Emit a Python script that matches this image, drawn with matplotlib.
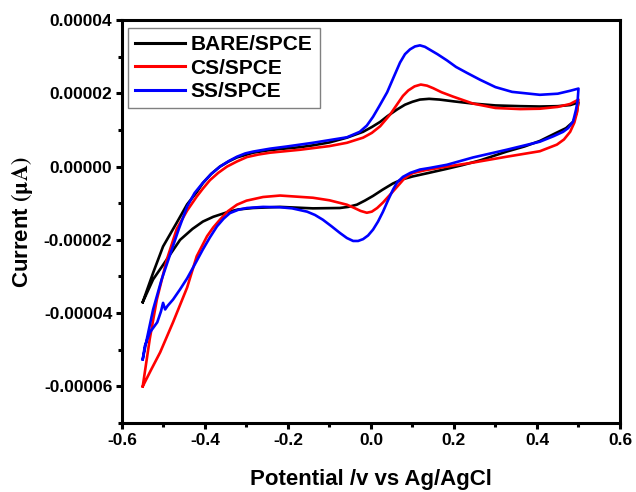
import matplotlib
matplotlib.use('Agg')
import matplotlib.pyplot as plt
from matplotlib.ticker import MultipleLocator, FixedLocator


# ----------------- Data (current in units of 1e-5 A) -----------------
# forward scan -0.55 -> 0.5, then reverse scan 0.5 -> -0.55
bare_x = [-0.550, -0.525, -0.501, -0.468, -0.443, -0.420, -0.405, -0.385, -0.364,
          -0.343, -0.323, -0.284, -0.250, -0.219, -0.171, -0.140, -0.100, -0.058,
          -0.019, 0.002, 0.022, 0.040, 0.063, 0.082, 0.100, 0.118, 0.140, 0.165,
          0.200, 0.246, 0.300, 0.360, 0.407, 0.450, 0.480, 0.500,
          0.495, 0.487, 0.470, 0.448, 0.407, 0.370, 0.327, 0.263, 0.220, 0.183,
          0.140, 0.100, 0.075, 0.053, 0.028, 0.005, -0.015, -0.034, -0.055,
          -0.075, -0.140, -0.219, -0.284, -0.320, -0.345, -0.380, -0.405, -0.430,
          -0.460, -0.484, -0.505, -0.525, -0.550]
bare_y = [-3.70, -2.90, -2.18, -1.53, -1.03, -0.70, -0.45, -0.20, 0.00,
          0.14, 0.25, 0.38, 0.44, 0.48, 0.53, 0.58, 0.66, 0.79,
          0.95, 1.08, 1.22, 1.38, 1.56, 1.69, 1.77, 1.83, 1.85, 1.83,
          1.78, 1.72, 1.67, 1.65, 1.64, 1.65, 1.68, 1.75,
          1.45, 1.22, 1.05, 0.93, 0.70, 0.55, 0.41, 0.17, 0.04, -0.06,
          -0.17, -0.27, -0.35, -0.46, -0.63, -0.80, -0.93, -1.04, -1.10,
          -1.13, -1.14, -1.10, -1.13, -1.17, -1.24, -1.37, -1.50, -1.70,
          -2.00, -2.40, -2.75, -3.08, -3.70]

cs_x = [-0.550, -0.533, -0.516, -0.492, -0.468, -0.443, -0.420, -0.405, -0.388,
        -0.368, -0.347, -0.323, -0.299, -0.271, -0.243, -0.171, -0.100, -0.058,
        -0.019, 0.002, 0.022, 0.046, 0.063, 0.077, 0.090, 0.105, 0.120, 0.135,
        0.150, 0.170, 0.198, 0.246, 0.300, 0.360, 0.407, 0.450, 0.480, 0.500,
        0.497, 0.490, 0.480, 0.465, 0.448, 0.407, 0.327, 0.246, 0.183, 0.130,
        0.100, 0.080, 0.063, 0.045, 0.029, 0.015, 0.002, -0.010, -0.025, -0.040,
        -0.058, -0.100, -0.140, -0.219, -0.260, -0.300, -0.323, -0.345, -0.364,
        -0.380, -0.395, -0.420, -0.443, -0.477, -0.508, -0.530, -0.550]
cs_y = [-6.00, -4.70, -3.63, -2.54, -1.70, -1.20, -0.82, -0.60, -0.37,
        -0.17, 0.00, 0.14, 0.26, 0.33, 0.38, 0.46, 0.56, 0.65,
        0.79, 0.92, 1.10, 1.42, 1.70, 1.93, 2.08, 2.19, 2.24, 2.21,
        2.14, 2.03, 1.91, 1.72, 1.60, 1.57, 1.58, 1.63, 1.71, 1.83,
        1.50, 1.20, 0.95, 0.74, 0.60, 0.42, 0.27, 0.11, 0.00, -0.10,
        -0.18, -0.33, -0.55, -0.78, -0.98, -1.13, -1.23, -1.26, -1.21, -1.13,
        -1.04, -0.92, -0.85, -0.79, -0.83, -0.93, -1.04, -1.22, -1.45,
        -1.66, -1.90, -2.45, -3.30, -4.25, -5.07, -5.55, -6.00]

ss_x = [-0.550, -0.540, -0.525, -0.505, -0.484, -0.463, -0.443, -0.425, -0.405,
        -0.385, -0.364, -0.343, -0.323, -0.303, -0.284, -0.243, -0.202, -0.140,
        -0.058, -0.027, -0.010, 0.005, 0.020, 0.039, 0.055, 0.070, 0.082, 0.094,
        0.106, 0.118, 0.130, 0.142, 0.160, 0.183, 0.205, 0.231, 0.263, 0.300,
        0.340, 0.407, 0.450, 0.480, 0.500,
        0.498, 0.494, 0.487, 0.475, 0.463, 0.440, 0.407, 0.327, 0.246, 0.183,
        0.140, 0.118, 0.095, 0.077, 0.063, 0.053, 0.041, 0.029, 0.017, 0.005,
        -0.007, -0.019, -0.031, -0.043, -0.058, -0.075, -0.095, -0.116, -0.135,
        -0.154, -0.190, -0.219, -0.260, -0.299, -0.320, -0.340, -0.355, -0.371,
        -0.388, -0.405, -0.425, -0.443, -0.460, -0.477, -0.490, -0.496, -0.501,
        -0.506, -0.515, -0.533, -0.545, -0.550]
ss_y = [-5.26, -4.70, -3.90, -3.10, -2.40, -1.70, -1.09, -0.72, -0.44,
        -0.20, 0.00, 0.15, 0.27, 0.36, 0.41, 0.49, 0.55, 0.65,
        0.80, 0.95, 1.12, 1.36, 1.65, 2.03, 2.45, 2.84, 3.07, 3.20,
        3.28, 3.31, 3.27, 3.19, 3.07, 2.90, 2.72, 2.56, 2.37, 2.17,
        2.04, 1.96, 1.99, 2.07, 2.13,
        1.80, 1.55, 1.23, 1.05, 0.95, 0.83, 0.68, 0.46, 0.25, 0.05,
        -0.04, -0.08, -0.17, -0.28, -0.43, -0.63, -0.92, -1.23, -1.50, -1.72,
        -1.88, -1.98, -2.03, -2.03, -1.95, -1.81, -1.63, -1.45, -1.32,
        -1.23, -1.14, -1.11, -1.10, -1.13, -1.18, -1.27, -1.42, -1.63,
        -1.93, -2.26, -2.68, -3.05, -3.35, -3.63, -3.80, -3.90, -3.72,
        -3.95, -4.25, -4.53, -4.90, -5.26]

labels = ['BARE/SPCE', 'CS/SPCE', 'SS/SPCE']
colors = ['black', '#ff0000', '#0000ff']

x_ticks = [-0.6, -0.4, -0.2, 0.0, 0.2, 0.4, 0.6]
y_ticks = [-0.00006, -0.00004, -0.00002, 0.0, 0.00002, 0.00004]


# ----------------- Plot -----------------
def main():
    plt.rcParams['font.family'] = ['Liberation Sans', 'DejaVu Sans']
    plt.rcParams['font.weight'] = 'bold'
    plt.rcParams['mathtext.fontset'] = 'stix'

    fig = plt.figure(figsize=(6.36, 4.92), dpi=100)
    ax = fig.add_axes([0.1918, 0.1402, 0.783, 0.819])

    series = [(bare_x, bare_y), (cs_x, cs_y), (ss_x, ss_y)]
    for (xs, ys), lab, col in zip(series, labels, colors):
        ax.plot(xs, [v * 1e-5 for v in ys], color=col, lw=1.9, label=lab,
                solid_joinstyle='round')

    ax.set_xlim(-0.6, 0.6)
    ax.set_ylim(-0.00007, 0.00004)
    ax.xaxis.set_major_locator(FixedLocator(x_ticks))
    ax.yaxis.set_major_locator(FixedLocator(y_ticks))
    ax.xaxis.set_minor_locator(MultipleLocator(0.1))
    ax.yaxis.set_minor_locator(MultipleLocator(0.00001))
    ax.set_xticklabels([f'{t:.1f}' for t in x_ticks])
    ax.set_yticklabels([f'{t:.5f}' for t in y_ticks])

    for sp in ax.spines.values():
        sp.set_linewidth(2.2)
    ax.tick_params(which='major', direction='out', length=4, width=2.2,
                   labelsize=12.5, pad=3)
    ax.tick_params(which='minor', direction='out', length=3, width=2.2)

    ax.set_xlabel('Potential /v vs Ag/AgCl', fontsize=16, fontweight='bold',
                  labelpad=15)
    ax.set_ylabel(r'Current $\mathrm{(\mu A)}$', fontsize=16, fontweight='bold',
                  labelpad=6)

    leg = ax.legend(loc='upper left', bbox_to_anchor=(0.012, 0.981),
                    borderaxespad=0, fontsize=15, handlelength=2.4,
                    handletextpad=0.25, labelspacing=0.22, borderpad=0.35,
                    fancybox=False, framealpha=1, edgecolor='gray')
    leg.get_frame().set_linewidth(1.0)
    for line in leg.get_lines():
        line.set_linewidth(2.2)

    fig.savefig('out.png', dpi=100)
    plt.close(fig)


if __name__ == '__main__':
    main()
